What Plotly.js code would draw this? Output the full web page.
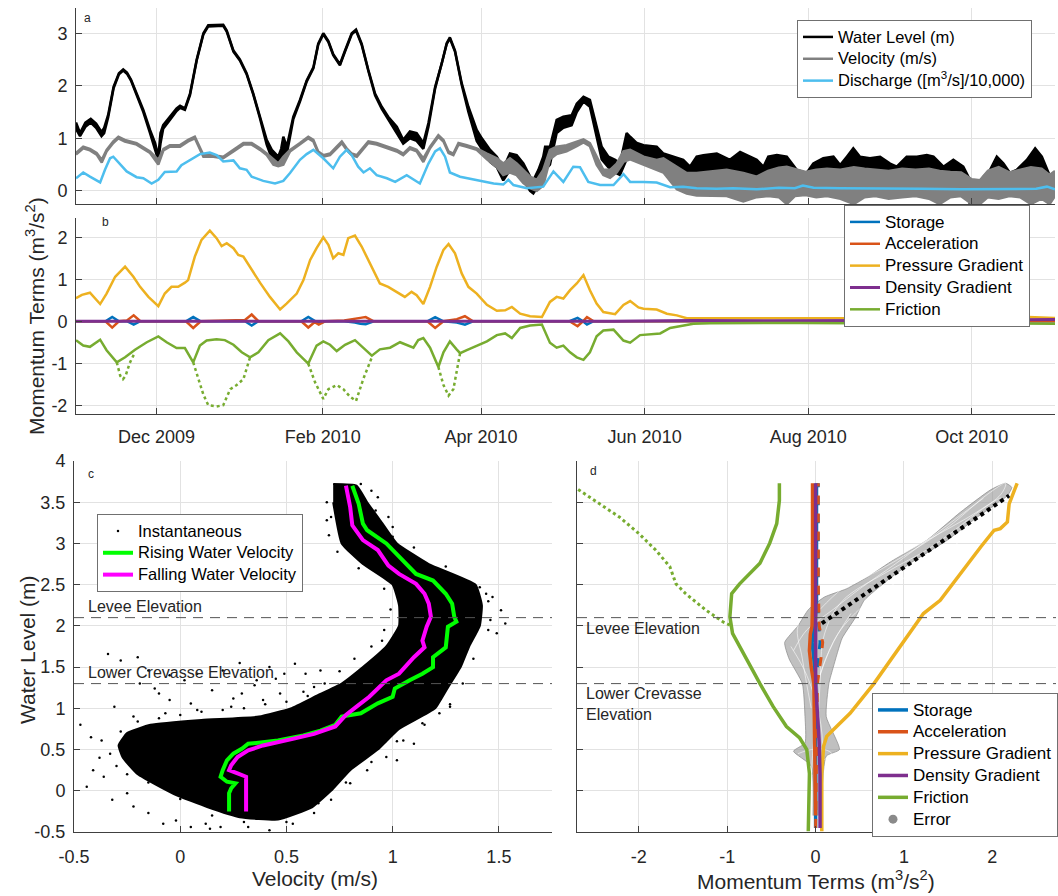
<!DOCTYPE html>
<html>
<head>
<meta charset="utf-8">
<script src="https://cdn.plot.ly/plotly-3.0.1.min.js"></script>
<style>html,body{margin:0;padding:0;background:#fff}#chart{width:1058px;height:896px}</style>
</head>
<body>
<div id="chart"></div>
<script>
// ---------- Panel a: time series (day = days since 2009-11-01) ----------
const wlDay = [0,1.5,3.5,5.5,7.5,9.5,10.5,12,14,16,17.6,19,20.5,22.6,25.1,27.6,29.5,30.7,31.5,32.5,35,37.5,38.8,40.6,42.5,45,47.5,49.3,54.9,56.2,58.7,61.1,63.6,66.1,68.6,71.1,73,75.4,76.5,77.3,78.6,81,83.5,86,88.5,90.3,92.2,94.1,95.9,98.4,100.3,102.8,104.4,106.5,109,111.5,114,116.4,119.6,122,124.5,127,129.5,131.4,133.9,136.4,138.2,139.4,141.3,143.8,146.3,149.4,151.3,154.4,156.9,159.3,161.8,164.3,166.8,169.3,170.5,172.4,174.2,174.9,176.7,179.2,181.7,184.8,186.7,189.2,191.6,194.1,196,198.5,201,202.8,205.3,206.6,209.1,211.6,216.5,219,222.7,226.4,228.9,231.4,233.9,238.9,243.8,247.6,251.3,253.8,256.3,258.1,261.3,265,268.7,272.4,274.9,278.6,282.4,284.9,287.4,289.8,292.3,296,299.8,303.5,306,309.7,313.5,317.2,319.7,323.4,327.1,330.8,333.3,335.8,338.3,340.8,343.3,345.8,348.2,350.7,354.5,357.6,360.1,363.2,365];
const wlHi = [1.30,1.10,1.30,1.37,1.28,1.12,1.20,1.45,1.98,2.24,2.31,2.25,2.12,1.85,1.54,1.16,0.91,0.65,1.10,1.25,1.41,1.57,1.62,1.57,1.85,2.50,3.00,3.15,3.16,3.05,2.67,2.50,2.24,1.85,1.41,0.97,0.78,0.65,0.80,1.03,0.84,1.41,1.73,2.10,2.35,2.80,3.00,2.85,2.60,2.41,2.67,3.00,3.07,2.80,2.30,1.85,1.60,1.41,1.22,0.97,1.13,1.10,0.91,1.29,1.98,2.43,2.81,2.92,2.67,2.05,1.60,1.16,1.00,0.78,0.65,0.43,0.71,0.68,0.52,0.27,0.20,0.40,0.65,0.84,0.84,1.35,1.41,1.44,1.66,1.79,1.73,1.22,0.84,0.65,0.59,0.52,1.10,1.03,0.91,0.87,0.84,0.71,0.65,0.59,0.46,0.65,0.68,0.71,0.59,0.74,0.65,0.59,0.46,0.65,0.68,0.65,0.40,0.34,0.52,0.62,0.65,0.49,0.65,0.81,0.65,0.62,0.65,0.52,0.46,0.65,0.65,0.68,0.65,0.46,0.59,0.46,0.21,0.08,0.27,0.40,0.65,0.52,0.34,0.40,0.59,0.81,0.65,0.27,0.34];
const wlLo = [1.18,1.04,1.22,1.30,1.20,1.04,1.10,1.40,1.95,2.22,2.29,2.23,2.10,1.83,1.50,1.10,0.80,0.58,0.90,1.18,1.35,1.52,1.58,1.54,1.82,2.48,2.98,3.13,3.14,3.03,2.65,2.48,2.22,1.83,1.38,0.88,0.62,0.55,0.60,0.70,0.70,1.36,1.70,2.08,2.33,2.78,2.98,2.83,2.58,2.39,2.65,2.98,3.05,2.78,2.28,1.82,1.56,1.36,1.10,0.90,1.00,0.95,0.80,1.22,1.95,2.41,2.79,2.90,2.65,2.02,1.50,0.95,0.80,0.55,0.45,0.20,0.40,0.35,0.20,0.00,-0.05,0.10,0.30,0.40,0.50,1.10,1.20,1.25,1.50,1.70,1.60,1.00,0.60,0.45,0.35,0.30,0.60,0.70,0.60,0.55,0.50,0.40,0.30,0.20,0.15,0.20,0.20,0.20,0.15,0.20,0.20,0.15,0.15,0.20,0.20,0.20,0.15,0.10,0.15,0.20,0.20,0.15,0.20,0.25,0.20,0.20,0.20,0.15,0.15,0.20,0.20,0.20,0.20,0.15,0.15,0.10,-0.25,-0.25,-0.10,0.10,0.20,0.15,0.10,0.10,0.15,0.25,0.20,0.05,0.10];

const velDay = [0,2.7,5.2,7.7,9.6,11.4,13.9,15.8,18.2,22.6,27.6,30.7,32.6,35,38.8,41.8,44.3,46.2,47.5,51.2,54.9,58.7,62.4,65.5,68.6,71.1,73.6,75.4,77.3,79.8,83.5,86.6,88.5,90.3,92.2,94.7,97.2,99.1,100.9,102.8,104.7,107.2,109,112.1,115.9,119.6,122,124.5,127,129.5,132,135.1,137,138.9,140.7,142.6,145.7,149.4,153.2,156.9,159.3,161.8,164.3,166.8,169.3,171.8,174.2,176.7,179.2,182.9,186.7,189.2,191.6,194.1,196.6,199.1,201.6,204.1,206.6,211.6,216.5,219,224,227.7,231.4,236.4,242.6,248.8,253.8,258,262,265,268,272,276,280,285,290,294,298,303,308,313,318,322,326,330,334,337,340,344,348,352,356,360,363,365];
const velHi = [0.72,0.84,0.80,0.72,0.59,0.78,0.94,1.03,0.97,0.91,0.75,0.59,0.80,0.87,0.87,0.97,1.03,0.84,0.68,0.68,0.65,0.78,0.91,0.91,0.81,0.71,0.59,0.52,0.65,0.78,0.91,1.03,0.97,0.75,0.68,0.71,0.84,0.94,0.81,0.71,0.68,0.84,0.94,0.91,0.84,0.78,0.71,0.83,0.78,0.62,0.84,1.06,0.97,0.75,0.71,0.91,0.87,0.81,0.71,0.62,0.52,0.62,0.52,0.40,0.27,0.21,0.40,0.78,0.84,0.87,0.94,0.98,0.91,0.65,0.40,0.40,0.52,0.75,0.78,0.65,0.59,0.62,0.46,0.34,0.34,0.37,0.40,0.34,0.27,0.38,0.44,0.46,0.42,0.36,0.40,0.42,0.40,0.45,0.42,0.40,0.38,0.42,0.40,0.42,0.38,0.36,0.35,0.22,0.20,0.38,0.45,0.35,0.40,0.45,0.42,0.30,0.38];
const velLo = [0.69,0.81,0.77,0.69,0.54,0.75,0.91,1.00,0.94,0.88,0.72,0.50,0.77,0.84,0.84,0.94,1.00,0.81,0.65,0.65,0.62,0.75,0.88,0.88,0.78,0.68,0.50,0.47,0.50,0.75,0.88,1.00,0.94,0.72,0.65,0.68,0.81,0.91,0.78,0.68,0.65,0.81,0.91,0.88,0.81,0.75,0.68,0.80,0.75,0.55,0.81,1.03,0.94,0.72,0.68,0.88,0.84,0.78,0.60,0.45,0.30,0.35,0.30,0.15,0.05,0.00,0.10,0.60,0.70,0.75,0.85,0.92,0.85,0.50,0.30,0.25,0.35,0.55,0.60,0.50,0.40,0.35,0.03,-0.05,-0.09,-0.10,-0.10,-0.20,-0.12,-0.10,-0.12,-0.25,-0.10,-0.08,-0.12,-0.10,-0.15,-0.25,-0.12,-0.10,-0.15,-0.12,-0.10,-0.15,-0.25,-0.12,-0.10,-0.25,-0.25,-0.12,-0.15,-0.10,-0.12,-0.25,-0.15,-0.25,-0.10];

const qDay = [0,2.7,5.2,9,10.8,12.7,13.9,16.4,18.9,22.6,25.1,28.2,30.7,33.1,37.5,39.3,42.5,46.2,49.9,52.4,54.9,58.7,61.1,63.6,65.5,69.8,74.2,77.3,79.8,83.5,86,88.5,92.2,95.9,98.4,100.9,102.8,105.2,107.2,109.6,112.1,115.9,119,123.3,128.2,131.4,133.9,135.7,137.6,139.4,143.2,149.4,155.7,159.3,161.2,163.1,168.1,174.2,178,181.7,185.4,187.9,191,195.4,200.4,204.1,206.6,211.6,216.5,221.5,226.4,231.4,238.9,245.1,253.8,262,268,271,275,285,300,315,330,345,358,362,365];
const qVal = [0.24,0.35,0.27,0.16,0.40,0.62,0.65,0.52,0.37,0.26,0.24,0.14,0.21,0.36,0.37,0.49,0.59,0.70,0.73,0.68,0.56,0.58,0.43,0.40,0.27,0.19,0.14,0.19,0.34,0.59,0.70,0.78,0.62,0.43,0.65,0.78,0.68,0.46,0.35,0.43,0.30,0.24,0.17,0.30,0.14,0.52,0.75,0.81,0.65,0.35,0.27,0.21,0.14,0.12,0.21,0.11,0.05,0.08,0.37,0.17,0.46,0.45,0.17,0.11,0.11,0.32,0.17,0.17,0.16,0.07,0.08,0.05,0.04,0.05,0.03,0.06,0.05,0.10,0.06,0.05,0.05,0.04,0.03,0.04,0.04,0.08,0.03];

// ---------- Panel b: momentum terms ----------
const pgDay = [0,2.2,5.2,9,11.4,14.6,18.3,21.4,23.9,27,30.7,33.1,35.6,38.1,40.6,41.8,44.3,46.8,49.9,52.4,54.3,56.2,58.7,60.5,62.4,65.5,68.6,72.3,76.1,78.5,82.3,84.8,87.3,89.7,92.2,94.1,95.9,97.8,99.7,101.5,104,106.5,109.6,113.3,116.4,120.2,122.6,125.1,127,129.5,132,134.5,137,138.9,141.3,143.8,146.3,149.4,153.2,156.9,160,162.5,165.6,169.3,173.7,176.7,179.2,181.7,184.2,186.7,189.2,191.6,194.1,196.6,201,204.1,206.6,209.7,211.6,216.5,220.3,224,227.7,232.7,242.6,253.8,270,290,310,330,345,355,365];
const pgVal = [0.55,0.63,0.68,0.41,0.66,1.06,1.30,1.06,0.82,0.58,0.36,0.66,0.82,0.82,0.92,0.98,1.54,1.94,2.16,1.98,1.79,1.86,1.74,1.58,1.54,1.22,0.92,0.58,0.28,0.42,0.66,0.98,1.46,1.74,2.00,1.82,1.50,1.62,1.58,1.98,2.04,1.78,1.38,0.90,0.82,0.66,0.58,0.70,0.62,0.41,0.82,1.30,1.70,1.84,1.62,1.14,0.82,0.66,0.39,0.25,0.26,0.34,0.18,0.12,0.10,0.46,0.58,0.54,0.74,0.90,1.10,0.74,0.42,0.22,0.17,0.39,0.48,0.33,0.30,0.28,0.18,0.14,0.07,0.07,0.07,0.06,0.06,0.07,0.07,0.08,0.09,0.10,0.08];

const frDay = [0,2.7,5.2,9,11.4,15.2,18.3,22,26.4,30.7,33.8,37.5,40.6,43.7,46.2,48.7,52.4,55.5,58.7,61.8,64.9,68,71.7,76.1,79.2,82.3,86.6,89.7,92.2,94.7,97.2,100.3,104,107.2,110.3,113.3,117.1,120.8,123.9,125.8,127.6,129.5,132,135.1,137,139.4,141.9,143.2,145.7,149.4,153.2,156.9,160,162.5,165.6,169.3,173.7,176.7,179.2,181.7,184.2,186.7,189.2,191.6,194.1,196.6,200.4,204.1,206.6,210.3,214.1,217.8,221.5,225.2,230.2,236.4,250,270,290,310,331,332,337,350,365];
const frVal = [-0.45,-0.58,-0.61,-0.44,-0.69,-0.98,-0.86,-0.68,-0.50,-0.36,-0.50,-0.64,-0.64,-0.98,-0.58,-0.46,-0.43,-0.45,-0.56,-0.74,-0.86,-0.74,-0.45,-0.29,-0.48,-0.74,-1.01,-0.58,-0.48,-0.56,-0.71,-0.56,-0.45,-0.64,-0.82,-0.67,-0.63,-0.50,-0.58,-0.63,-0.45,-0.40,-0.63,-1.09,-0.74,-0.48,-0.67,-0.76,-0.69,-0.58,-0.48,-0.33,-0.29,-0.40,-0.16,-0.10,-0.08,-0.51,-0.63,-0.58,-0.74,-0.86,-0.92,-0.74,-0.36,-0.22,-0.20,-0.46,-0.51,-0.33,-0.31,-0.29,-0.16,-0.11,-0.06,-0.05,-0.04,-0.04,-0.05,-0.04,-0.04,null,-0.05,-0.05,-0.06];

// friction without the levee-overflow correction (dotted)
const frDotDay = [15.2,16.5,17.5,18.5,20,22,null,43.7,45.5,47.5,49.3,52.4,54.9,57.5,59.9,62.4,64.9,null,86.6,89.1,92.2,94.1,97.2,99.7,102.2,104.4,107.2,110.3,null,135.1,137,138.9,140.7,143.2];
const frDotVal = [-0.98,-1.30,-1.38,-1.30,-1.00,-0.74,null,-0.98,-1.36,-1.75,-2.00,-2.03,-2.00,-1.62,-1.52,-1.38,-0.86,null,-1.01,-1.45,-1.85,-1.62,-1.52,-1.62,-1.80,-1.90,-1.36,-0.86,null,-1.09,-1.52,-1.77,-1.62,-0.76];

const saDay = [0,11,13.5,16,19,21.5,24,41,43.7,46.5,63,65.5,68,84,86.6,89,90.5,93,100,104,106,108,111,131,133.9,137,142,145,148,184,187,189,190.5,193,365];
const accVal = [0,0,-0.15,0,0.02,0.14,0,0,-0.16,0,0.03,0.16,0,0,-0.15,-0.02,-0.08,0,0.02,0.05,0.08,0.10,0,0,-0.16,0,0.05,0.12,0,0,-0.12,0,0.10,0,0];
const stoVal = [0,0,0.10,0,0,-0.08,0,0,0.10,0,0,-0.10,0,0,0.10,0,-0.05,0,0,-0.03,-0.06,-0.07,0,0,0.10,0,-0.03,-0.08,0,0,0.08,0,-0.08,0,0];
const dgDay = [0,200,230,260,300,330,345,365];
const dgVal = [0,0,0.02,0.01,0.02,0.03,0.05,0.04];

const tickDates = ['2009-12-01','2010-02-01','2010-04-01','2010-06-01','2010-08-01','2010-10-01'];
const tickLabels = ['Dec 2009','Feb 2010','Apr 2010','Jun 2010','Aug 2010','Oct 2010'];

// ---------- Panel c: water level vs velocity ----------
const leveeElev = 2.1;
const crevasseElev = 1.3;
// outline of the dense cloud of instantaneous samples
const cloudV = [0.72,0.83,0.88,0.95,1.02,1.17,1.39,1.42,1.41,1.36,1.32,1.26,1.20,1.03,0.93,0.80,0.71,0.62,0.46,0.28,0.13,-0.03,-0.20,-0.27,-0.29,-0.25,-0.14,0.10,0.37,0.52,0.64,0.76,0.86,0.97,1.03,1.03,1.00,0.86,0.76,0.72];
const cloudW = [3.72,3.70,3.50,3.25,3.00,2.75,2.50,2.25,2.00,1.75,1.50,1.25,1.00,0.75,0.50,0.25,0.00,-0.20,-0.35,-0.32,-0.20,-0.04,0.20,0.40,0.55,0.70,0.80,0.86,0.90,1.00,1.15,1.30,1.50,1.75,2.00,2.25,2.50,2.75,3.00,3.50];
// scattered instantaneous samples around the cloud
const outV = [-0.47,-0.44,-0.34,-0.31,-0.37,-0.41,-0.36,-0.32,-0.25,-0.20,-0.19,-0.15,-0.10,-0.22,-0.15,-0.08,-0.02,0.05,0.12,0.19,-0.05,0.02,0.08,0.15,0.20,0.29,0.36,0.42,0.49,0.54,0.59,0.63,0.66,0.47,0.39,0.24,0.08,-0.07,-0.22,0.05,0.32,0.42,0.53,0.63,0.71,0.80,0.88,0.97,1.02,1.05,1.10,1.14,1.22,1.27,1.47,1.51,1.53,1.49,1.44,1.41,1.46,0.99,0.95,0.98,0.93,0.90,0.69,0.71,1.00,1.14,1.22,1.34,-0.28,-0.12,0.28,0.45,0.14,
  -0.30,-0.33,-0.28,-0.20,-0.10,0.00,0.10,0.20,0.30,0.40,0.50,0.60,0.68,0.75,0.82,0.90,0.96,0.99,0.96,0.84,0.74,0.70,0.69,0.85,0.92,1.00,1.10,1.25,1.45,1.45,1.38,1.33,1.27,1.15,1.02,0.90,0.78,0.65,0.50,0.30,0.15,0.00,-0.15,-0.25,-0.38,-0.42,0.25,0.35,0.58,-0.05];
const outW = [0.80,0.05,1.66,1.02,0.61,0.25,0.17,-0.11,-0.03,1.62,1.30,1.46,1.18,-0.19,-0.27,-0.40,-0.36,-0.44,-0.40,-0.44,1.10,1.34,1.42,1.22,1.46,1.18,1.34,1.50,1.42,1.54,1.42,1.26,1.46,1.18,1.10,1.02,0.98,0.94,0.90,1.06,-0.44,-0.48,-0.40,-0.27,-0.11,0.09,0.25,0.41,0.37,0.61,0.57,0.82,0.94,1.02,2.35,2.19,2.03,1.91,2.39,2.47,2.07,1.74,1.82,3.32,3.56,3.64,3.28,3.32,3.08,2.75,2.67,2.55,1.58,1.24,1.55,1.36,-0.46,
  0.30,0.45,0.72,0.84,0.88,0.92,0.96,0.98,1.00,1.05,1.08,1.15,1.30,1.45,1.60,1.75,1.95,2.20,2.45,2.70,2.90,3.10,3.50,3.72,3.40,3.20,2.95,2.72,2.30,1.95,1.60,1.30,1.05,0.80,0.60,0.35,0.10,-0.15,-0.38,-0.38,-0.30,-0.10,0.10,0.20,0.40,0.65,1.12,1.28,1.20,1.40];
const riseV = [0.81,0.84,0.86,0.88,0.97,1.05,1.11,1.19,1.25,1.28,1.29,1.30,1.26,1.25,1.19,1.19,1.14,1.08,1.01,1.00,0.93,0.85,0.76,0.73,0.66,0.58,0.46,0.32,0.29,0.25,0.22,0.20,0.19,0.22,0.26,0.24,0.23,0.23];
const riseW = [3.70,3.48,3.24,3.16,3.00,2.79,2.63,2.55,2.39,2.27,2.11,2.05,1.99,1.74,1.62,1.50,1.42,1.34,1.24,1.14,1.06,0.94,0.90,0.80,0.73,0.67,0.61,0.57,0.51,0.45,0.37,0.25,0.17,0.11,0.09,0.03,-0.03,-0.25];
const fallV = [0.78,0.80,0.81,0.86,0.93,0.98,1.03,1.11,1.15,1.17,1.18,1.16,1.14,1.15,1.10,1.07,1.03,0.97,0.93,0.89,0.83,0.78,0.73,0.63,0.53,0.39,0.32,0.27,0.24,0.23,0.27,0.31,0.31,0.31];
const fallW = [3.70,3.44,3.22,3.04,2.92,2.73,2.63,2.51,2.39,2.27,2.11,1.99,1.82,1.74,1.62,1.54,1.42,1.34,1.24,1.14,1.02,0.92,0.78,0.69,0.63,0.55,0.49,0.41,0.31,0.25,0.21,0.17,-0.03,-0.25];

// ---------- Panel d: momentum terms vs water level ----------
const dStoM = [0.00,0.00,0.00,-0.02,-0.04,-0.01,0.01,0.01];
const dStoW = [-0.45,0.50,1.30,1.60,1.80,2.00,2.30,3.73];
const dStoDashM = [0.02,0.05,0.03,0.03,0.03];
const dStoDashW = [1.50,1.80,2.10,2.60,3.73];
const dAccM = [0.00,-0.01,-0.02,-0.05,-0.07,-0.06,-0.04,-0.035,-0.035];
const dAccW = [-0.30,0.50,1.30,1.50,1.70,1.90,2.00,2.30,3.73];
const dAccDashM = [0.00,0.01,0.02,0.06,0.08,0.04,0.03,0.03];
const dAccDashW = [-0.45,0.50,1.30,1.60,1.80,2.00,2.50,3.73];
const dPgM = [0.07,0.07,0.09,0.125,0.20,0.39,0.66,0.88,1.07,1.22,1.41,1.64,1.87,2.02,2.09,2.17,2.19,2.28];
const dPgW = [-0.49,0.21,0.54,0.66,0.74,0.94,1.30,1.63,1.91,2.15,2.31,2.64,2.96,3.16,3.18,3.26,3.48,3.73];
const dDgM = [0.05,0.05,0.04,0.02,0.00,0.00,0.00];
const dDgW = [-0.45,0.20,0.60,1.00,1.30,2.00,3.73];
const dFrM = [-0.083,-0.07,-0.10,-0.18,-0.33,-0.48,-0.63,-0.78,-0.94,-0.97,-0.95,-0.86,-0.63,-0.52,-0.44,-0.41,-0.41];
const dFrW = [-0.49,0.21,0.50,0.64,0.78,1.02,1.30,1.59,1.91,2.11,2.39,2.51,2.76,3.00,3.24,3.52,3.73];
const dFrDotM = [-0.97,-1.05,-1.24,-1.47,-1.58,-1.65,-1.81,-2.00,-2.22,-2.45,-2.68,-2.75];
const dFrDotW = [2.01,2.05,2.19,2.39,2.51,2.72,2.92,3.12,3.32,3.48,3.64,3.70];
const dFitM = [0.07,2.19];
const dFitW = [2.03,3.58];
const errPolyM = [-0.03,-0.05,-0.25,-0.12,-0.12,-0.15,-0.30,-0.35,-0.20,-0.08,0.10,0.35,0.60,0.88,1.26,1.64,1.98,2.15,2.22,2.17,1.83,1.49,1.07,0.81,0.55,0.45,0.30,0.20,0.15,0.12,0.27,0.12,0.06];
const errPolyW = [-0.30,0.30,0.48,0.58,0.90,1.30,1.60,1.80,2.00,2.20,2.35,2.45,2.60,2.80,3.04,3.38,3.65,3.73,3.68,3.58,3.32,3.04,2.76,2.55,2.31,2.10,1.85,1.50,1.30,0.90,0.50,0.42,-0.30];
const errLineM = [0.00,0.02,0.05,0.10,0.30,0.80,1.30,1.80,2.10,2.15,1.95,1.50,1.00,0.50,0.00,-0.20,-0.15,-0.05,null,0.05,0.25,0.60,1.10,1.60,2.00,2.10,1.70,1.20,0.70,0.30,0.05,null,-0.25,-0.10,0.20,0.50,0.90,1.40,1.90,null,-0.20,-0.05,0.10,0.18,0.05,null,-0.05,0.00,0.05,0.20,0.40,null,0.08,0.06,-0.10,-0.28];
const errLineW = [-0.30,0.50,1.30,1.90,2.30,2.65,2.95,3.35,3.60,3.73,3.60,3.20,2.85,2.55,2.30,2.00,1.60,1.00,null,1.40,1.90,2.30,2.65,3.00,3.40,3.55,3.30,3.00,2.70,2.45,2.20,null,1.70,1.95,2.20,2.45,2.75,3.15,3.55,null,0.45,0.50,0.50,0.45,0.35,null,0.20,0.90,1.40,1.80,2.15,null,0.10,0.80,1.40,1.75];

// ---------- helpers ----------
const T0 = Date.UTC(2009, 10, 1);
const toDate = d => (d === null ? null : new Date(T0 + d * 86400000).toISOString().replace('T', ' ').slice(0, 19));
const dates = arr => arr.map(toDate);
const W = 1058, H = 896;
const fx = p => p / W;
const fy = p => 1 - p / H;
const FONT = '"Liberation Sans", Arial, Helvetica, sans-serif';
const L = (t, s) => '<span style="font-size:' + (s || 17) + 'px">' + t + '</span>';

const C = {sto:'#0072BD', acc:'#D95319', pg:'#EDB120', dg:'#7E2F8E', fr:'#77AC30'};

const traces = [];
// panel a
traces.push({x:dates(wlDay), y:wlLo, xaxis:'x', yaxis:'y', mode:'lines', line:{color:'#000', width:2.5}, name:L('Water Level (m)', 16.5), legend:'legend'});
traces.push({x:dates(wlDay), y:wlHi, xaxis:'x', yaxis:'y', mode:'lines', line:{color:'#000', width:2.5}, fill:'tonexty', fillcolor:'#000', showlegend:false});
traces.push({x:dates(velDay), y:velLo, xaxis:'x', yaxis:'y', mode:'lines', line:{color:'#808080', width:2.5}, name:L('Velocity (m/s)', 16.5), legend:'legend'});
traces.push({x:dates(velDay), y:velHi, xaxis:'x', yaxis:'y', mode:'lines', line:{color:'#808080', width:2.5}, fill:'tonexty', fillcolor:'#808080', showlegend:false});
traces.push({x:dates(qDay), y:qVal, xaxis:'x', yaxis:'y', mode:'lines', line:{color:'#4DBEEE', width:2.5}, name:L('Discharge ([m<sup>3</sup>/s]/10,000)', 16.5), legend:'legend'});
// panel b
traces.push({x:dates(saDay), y:stoVal, xaxis:'x2', yaxis:'y2', mode:'lines', line:{color:C.sto, width:2.5}, name:L('Storage'), legend:'legend2'});
traces.push({x:dates(saDay), y:accVal, xaxis:'x2', yaxis:'y2', mode:'lines', line:{color:C.acc, width:2.5}, name:L('Acceleration'), legend:'legend2'});
traces.push({x:dates(pgDay), y:pgVal, xaxis:'x2', yaxis:'y2', mode:'lines', line:{color:C.pg, width:2.5}, name:L('Pressure Gradient'), legend:'legend2'});
traces.push({x:dates(dgDay), y:dgVal, xaxis:'x2', yaxis:'y2', mode:'lines', line:{color:C.dg, width:3}, name:L('Density Gradient'), legend:'legend2'});
traces.push({x:dates(frDay), y:frVal, xaxis:'x2', yaxis:'y2', mode:'lines', line:{color:C.fr, width:2.5}, name:L('Friction'), legend:'legend2'});
traces.push({x:dates(frDotDay), y:frDotVal, xaxis:'x2', yaxis:'y2', mode:'lines', line:{color:C.fr, width:2.5, dash:'dot'}, showlegend:false});
// panel c
traces.push({x:cloudV, y:cloudW, xaxis:'x3', yaxis:'y3', mode:'lines', fill:'toself', fillcolor:'#000', line:{color:'#000', width:2, shape:'spline', smoothing:0.4}, showlegend:false});
traces.push({x:outV, y:outW, xaxis:'x3', yaxis:'y3', mode:'markers', marker:{color:'#000', size:2.5}, name:L('Instantaneous', 16.5), legend:'legend3'});
traces.push({x:riseV, y:riseW, xaxis:'x3', yaxis:'y3', mode:'lines', line:{color:'#00FF00', width:4}, name:L('Rising Water Velocity', 16.5), legend:'legend3'});
traces.push({x:fallV, y:fallW, xaxis:'x3', yaxis:'y3', mode:'lines', line:{color:'#FF00FF', width:4}, name:L('Falling Water Velocity', 16.5), legend:'legend3'});
// panel d
traces.push({x:errPolyM, y:errPolyW, xaxis:'x4', yaxis:'y4', mode:'lines', fill:'toself', fillcolor:'rgba(150,150,150,0.6)', line:{color:'rgba(140,140,140,0.9)', width:0.8, shape:'spline', smoothing:0.5}, showlegend:false});
traces.push({x:errLineM, y:errLineW, xaxis:'x4', yaxis:'y4', mode:'lines', line:{color:'rgba(255,255,255,0.7)', width:0.8, shape:'spline'}, showlegend:false});
traces.push({x:dFitM, y:dFitW, xaxis:'x4', yaxis:'y4', mode:'lines', line:{color:'#000', width:4, dash:'dot'}, showlegend:false});
traces.push({x:dStoM, y:dStoW, xaxis:'x4', yaxis:'y4', mode:'lines', line:{color:C.sto, width:3.5}, name:L('Storage'), legend:'legend4', legendrank:1});
traces.push({x:dStoDashM, y:dStoDashW, xaxis:'x4', yaxis:'y4', mode:'lines', line:{color:C.sto, width:3, dash:'dash'}, showlegend:false});
traces.push({x:dAccM, y:dAccW, xaxis:'x4', yaxis:'y4', mode:'lines', line:{color:C.acc, width:3.5}, name:L('Acceleration'), legend:'legend4', legendrank:2});
traces.push({x:dAccDashM, y:dAccDashW, xaxis:'x4', yaxis:'y4', mode:'lines', line:{color:C.acc, width:3, dash:'dash'}, showlegend:false});
traces.push({x:dPgM, y:dPgW, xaxis:'x4', yaxis:'y4', mode:'lines', line:{color:C.pg, width:3.5}, name:L('Pressure Gradient'), legend:'legend4', legendrank:3});
traces.push({x:dDgM, y:dDgW, xaxis:'x4', yaxis:'y4', mode:'lines', line:{color:C.dg, width:3.5}, name:L('Density Gradient'), legend:'legend4', legendrank:4});
traces.push({x:dFrM, y:dFrW, xaxis:'x4', yaxis:'y4', mode:'lines', line:{color:C.fr, width:3.5}, name:L('Friction'), legend:'legend4', legendrank:5});
traces.push({x:dFrDotM, y:dFrDotW, xaxis:'x4', yaxis:'y4', mode:'lines', line:{color:C.fr, width:3, dash:'dot'}, showlegend:false});
traces.push({x:[null], y:[null], xaxis:'x4', yaxis:'y4', mode:'markers', marker:{color:'#8a8a8a', size:9}, name:L('Error'), legend:'legend4', legendrank:6});

const axBase = {showline:true, linecolor:'#404040', linewidth:1, ticks:'inside', ticklen:6, tickcolor:'#404040',
  showgrid:true, gridcolor:'#e2e2e2', gridwidth:1, zeroline:false, tickfont:{size:18, color:'#262626', family:FONT}, fixedrange:true};

const dateRange = [toDate(0), toDate(365)];
const legBase = {xref:'paper', yref:'paper', xanchor:'left', yanchor:'top', bgcolor:'#fff', bordercolor:'#707070', borderwidth:1,
  font:{size:14.5, color:'#000', family:FONT}, traceorder:'normal', tracegroupgap:0};

const ann = (text, x, y, opts) => Object.assign({text, x:fx(x), y:fy(y), xref:'paper', yref:'paper', showarrow:false,
  font:{size:16, color:'#262626', family:FONT}, xanchor:'left', yanchor:'middle'}, opts || {});

const dashLine = (xr, yr, yv) => ({type:'line', xref:xr + ' domain', x0:0, x1:1, yref:yr, y0:yv, y1:yv,
  line:{color:'#555', width:1, dash:'10px,7px'}, layer:'above'});

const layout = {
  width:W, height:H, margin:{l:0, r:0, t:0, b:0, autoexpand:false},
  paper_bgcolor:'#fff', plot_bgcolor:'#fff', font:{family:FONT, color:'#262626'},
  showlegend:true,
  xaxis:Object.assign({}, axBase, {type:'date', domain:[fx(76), fx(1055)], range:dateRange, anchor:'y', tickvals:tickDates, ticktext:tickLabels, showticklabels:false}),
  yaxis:Object.assign({}, axBase, {domain:[fy(204), fy(8)], range:[-0.25, 3.48], anchor:'x', tickvals:[0,1,2,3], ticktext:['0','1','2','3'], ticklabelstandoff:4}),
  xaxis2:Object.assign({}, axBase, {type:'date', domain:[fx(76), fx(1055)], range:dateRange, anchor:'y2', tickvals:tickDates, ticktext:tickLabels, ticklabelstandoff:6}),
  yaxis2:Object.assign({}, axBase, {domain:[fy(414), fy(218)], range:[-2.21, 2.46], anchor:'x2', tickvals:[-2,-1,0,1,2], ticktext:['-2','-1','0','1','2'], ticklabelstandoff:4}),
  xaxis3:Object.assign({}, axBase, {domain:[fx(74), fx(552)], range:[-0.5, 1.75], anchor:'y3', tickvals:[-0.5,0,0.5,1,1.5], ticktext:['-0.5','0','0.5','1','1.5'], ticklabelstandoff:8}),
  yaxis3:Object.assign({}, axBase, {domain:[fy(832), fy(461)], range:[-0.5, 4], anchor:'x3', tickvals:[-0.5,0,0.5,1,1.5,2,2.5,3,3.5,4], ticktext:['-0.5','0','0.5','1','1.5','2','2.5','3','3.5','4'], ticklabelstandoff:4}),
  xaxis4:Object.assign({}, axBase, {domain:[fx(577), fx(1056)], range:[-2.7, 2.72], anchor:'y4', tickvals:[-2,-1,0,1,2], ticktext:['-2','-1','0','1','2'], ticklabelstandoff:8}),
  yaxis4:Object.assign({}, axBase, {domain:[fy(832), fy(461)], range:[-0.5, 4], anchor:'x4', tickvals:[-0.5,0,0.5,1,1.5,2,2.5,3,3.5,4], showticklabels:false}),
  legend:Object.assign({}, legBase, {x:fx(797), y:fy(20)}),
  legend2:Object.assign({}, legBase, {x:fx(844), y:fy(205)}),
  legend3:Object.assign({}, legBase, {x:fx(97), y:fy(514)}),
  legend4:Object.assign({}, legBase, {x:fx(872), y:fy(693)}),
  shapes:[dashLine('x3','y3',leveeElev), dashLine('x3','y3',crevasseElev), dashLine('x4','y4',leveeElev), dashLine('x4','y4',crevasseElev)],
  annotations:[
    ann('a', 82, 18, {font:{size:12, color:'#262626', family:FONT}}),
    ann('b', 100, 222, {font:{size:12, color:'#262626', family:FONT}}),
    ann('c', 86, 474, {font:{size:12, color:'#262626', family:FONT}}),
    ann('d', 588, 471, {font:{size:12, color:'#262626', family:FONT}}),
    ann('Momentum Terms (m<sup>3</sup>/s<sup>2</sup>)', 35, 316, {textangle:-90, xanchor:'center', font:{size:21, color:'#262626', family:FONT}}),
    ann('Water Level (m)', 27, 650, {textangle:-90, xanchor:'center', font:{size:21, color:'#262626', family:FONT}}),
    ann('Velocity (m/s)', 315, 878, {xanchor:'center', font:{size:21, color:'#262626', family:FONT}}),
    ann('Momentum Terms (m<sup>3</sup>/s<sup>2</sup>)', 816, 880, {xanchor:'center', font:{size:21, color:'#262626', family:FONT}}),
    ann('Levee Elevation', 86, 606),
    ann('Lower Crevasse Elevation', 86, 672),
    ann('Levee Elevation', 584, 628),
    ann('Lower Crevasse<br>Elevation', 584, 704, {align:'left'})
  ]
};

Plotly.newPlot('chart', traces, layout, {staticPlot:true, displayModeBar:false});
</script>
</body>
</html>
